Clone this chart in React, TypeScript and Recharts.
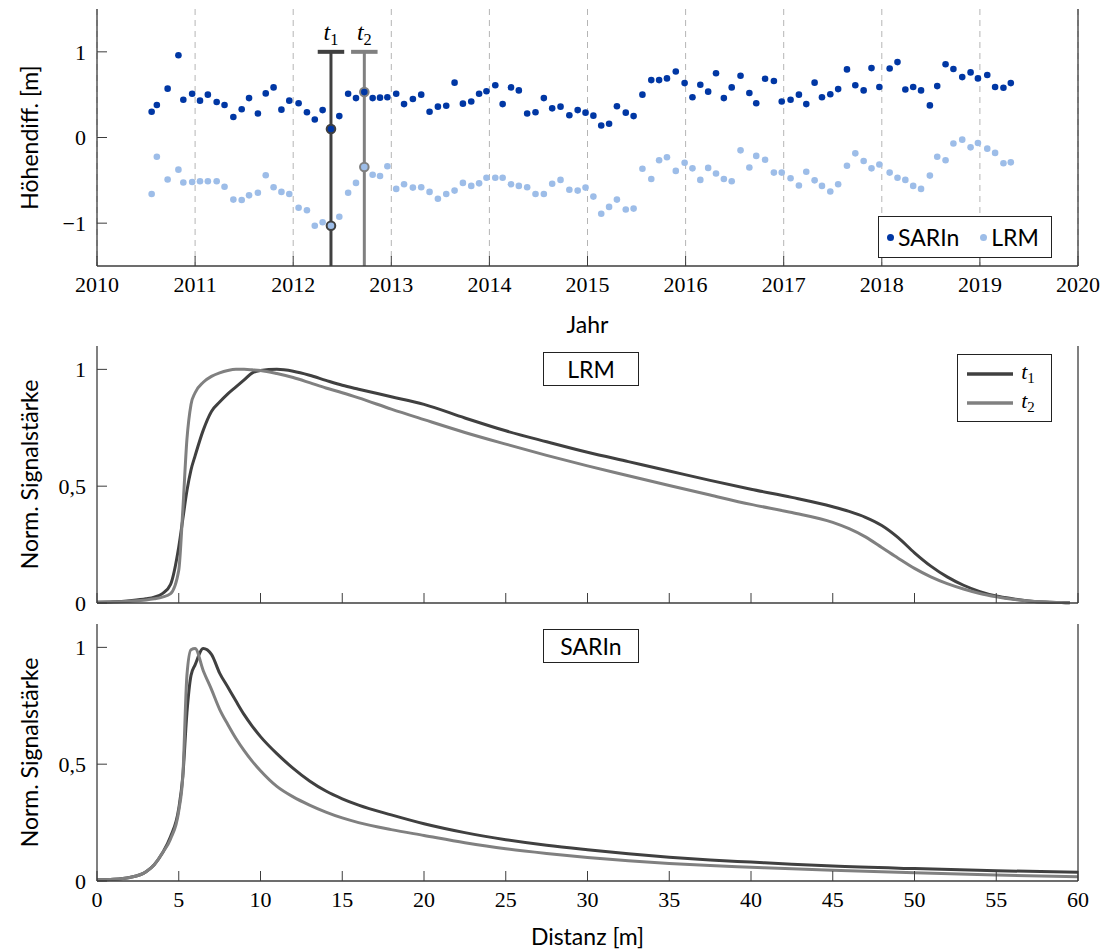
import React from 'react';
import {
  ScatterChart,
  Scatter,
  LineChart,
  Line,
  XAxis,
  YAxis,
  CartesianGrid,
  ReferenceLine,
} from 'recharts';

// --- top panel: height differences per satellite pass ---
const years = [
  2010.557, 2010.61, 2010.72, 2010.83, 2010.88, 2010.97, 2011.05, 2011.13, 2011.22, 2011.3,
  2011.39, 2011.475, 2011.55, 2011.64, 2011.72, 2011.8, 2011.88, 2011.96, 2012.055, 2012.14,
  2012.22, 2012.3, 2012.385, 2012.47, 2012.56, 2012.64, 2012.725, 2012.81, 2012.885, 2012.96,
  2013.05, 2013.13, 2013.22, 2013.305, 2013.39, 2013.475, 2013.56, 2013.645, 2013.73, 2013.815,
  2013.895, 2013.97, 2014.06, 2014.135, 2014.22, 2014.3, 2014.385, 2014.47, 2014.555, 2014.64,
  2014.725, 2014.815, 2014.9, 2014.98, 2015.06, 2015.14, 2015.22, 2015.3, 2015.39, 2015.47,
  2015.56, 2015.65, 2015.73, 2015.81, 2015.9, 2015.99, 2016.07, 2016.15, 2016.23, 2016.31,
  2016.39, 2016.47, 2016.56, 2016.65, 2016.72, 2016.81, 2016.9, 2016.98, 2017.07, 2017.155,
  2017.23, 2017.315, 2017.39, 2017.475, 2017.555, 2017.645, 2017.73, 2017.815, 2017.895, 2017.975,
  2018.08, 2018.16, 2018.24, 2018.32, 2018.4, 2018.49, 2018.565, 2018.65, 2018.73, 2018.82,
  2018.905, 2018.98, 2019.075, 2019.155, 2019.24, 2019.315,
];

const sarin = [
  0.3, 0.38, 0.57, 0.96, 0.44, 0.51, 0.43, 0.5, 0.415, 0.38,
  0.24, 0.33, 0.46, 0.28, 0.515, 0.585, 0.325, 0.43, 0.4, 0.295,
  0.21, 0.32, 0.1, 0.25, 0.51, 0.46, 0.53, 0.46, 0.465, 0.47,
  0.51, 0.39, 0.45, 0.5, 0.3, 0.36, 0.37, 0.64, 0.395, 0.42,
  0.51, 0.54, 0.61, 0.39, 0.585, 0.55, 0.28, 0.295, 0.46, 0.34,
  0.36, 0.26, 0.32, 0.29, 0.255, 0.14, 0.16, 0.365, 0.29, 0.25,
  0.5, 0.67, 0.67, 0.69, 0.77, 0.635, 0.47, 0.615, 0.535, 0.75,
  0.46, 0.585, 0.72, 0.52, 0.4, 0.685, 0.66, 0.42, 0.44, 0.5,
  0.39, 0.64, 0.47, 0.505, 0.565, 0.795, 0.61, 0.55, 0.81, 0.59,
  0.805, 0.88, 0.56, 0.59, 0.55, 0.375, 0.6, 0.855, 0.8, 0.705,
  0.76, 0.69, 0.73, 0.59, 0.58, 0.635,
];

const lrm = [
  -0.66, -0.225, -0.49, -0.375, -0.525, -0.52, -0.51, -0.51, -0.51, -0.575,
  -0.725, -0.73, -0.675, -0.645, -0.44, -0.58, -0.635, -0.66, -0.82, -0.85,
  -1.03, -0.99, -1.03, -0.925, -0.645, -0.53, -0.345, -0.435, -0.45, -0.335,
  -0.6, -0.545, -0.585, -0.58, -0.635, -0.715, -0.66, -0.62, -0.53, -0.565,
  -0.535, -0.47, -0.47, -0.47, -0.545, -0.565, -0.58, -0.66, -0.66, -0.54,
  -0.495, -0.61, -0.62, -0.585, -0.69, -0.89, -0.81, -0.725, -0.84, -0.83,
  -0.365, -0.485, -0.265, -0.23, -0.39, -0.295, -0.36, -0.495, -0.355, -0.42,
  -0.485, -0.51, -0.15, -0.35, -0.215, -0.26, -0.41, -0.41, -0.475, -0.56,
  -0.4, -0.5, -0.565, -0.63, -0.545, -0.33, -0.185, -0.275, -0.36, -0.315,
  -0.41, -0.47, -0.495, -0.565, -0.6, -0.445, -0.225, -0.265, -0.07, -0.025,
  -0.115, -0.065, -0.13, -0.18, -0.3, -0.29,
];

const yearTicks = [2010, 2011, 2012, 2013, 2014, 2015, 2016, 2017, 2018, 2019, 2020];
const heightTicks = [-1, 0, 1];
const t1Index = 22;
const t2Index = 26;

// --- waveforms (normalised signal strength over distance) ---
const lrmDistance = [
  0, 1, 2, 3, 3.5, 4, 4.5, 5, 5.25, 5.5, 5.75, 6, 6.5, 7, 7.5, 8, 8.5, 9, 9.5, 10,
  11, 12, 13, 14, 15, 16, 18, 20, 22.5, 25, 27.5, 30, 32.5, 35, 37.5, 40, 42.5, 45,
  46, 47, 48, 49, 50, 51, 52, 53, 54, 55, 56, 57, 58, 59, 59.5,
];
const lrmT1 = [
  0.003, 0.005, 0.01, 0.018, 0.025, 0.04, 0.08, 0.24, 0.36, 0.48, 0.57, 0.63, 0.74, 0.82, 0.86, 0.895, 0.925, 0.955, 0.985, 0.995,
  1.0, 0.992, 0.975, 0.953, 0.932, 0.915, 0.883, 0.85, 0.792, 0.737, 0.69, 0.645, 0.605, 0.565, 0.525, 0.487, 0.452, 0.412,
  0.392, 0.367, 0.332, 0.28, 0.215, 0.158, 0.112, 0.076, 0.049, 0.03, 0.018, 0.009, 0.004, 0.002, 0.001,
];
const lrmT2 = [
  0.003, 0.005, 0.008, 0.013, 0.018, 0.025, 0.04, 0.14, 0.4, 0.7, 0.85, 0.9, 0.945, 0.97, 0.985, 0.995, 1.0, 1.0, 0.998, 0.995,
  0.982, 0.965, 0.943, 0.92, 0.9, 0.878, 0.83, 0.785, 0.73, 0.68, 0.632, 0.587, 0.545, 0.503, 0.462, 0.422, 0.387, 0.345,
  0.318, 0.283, 0.238, 0.192, 0.148, 0.112, 0.083, 0.06, 0.041, 0.027, 0.016, 0.009, 0.004, 0.002, 0.001,
];

const sarinDistance = [
  0, 1, 2, 3, 3.5, 4, 4.5, 5, 5.25, 5.5, 5.75, 6, 6.5, 7, 7.5, 8, 8.5, 9, 9.5, 10,
  11, 12, 13, 14, 15, 16, 18, 20, 22.5, 25, 27.5, 30, 32.5, 35, 37.5, 40, 42.5, 45, 50, 55, 60,
];
const sarinT1 = [
  0.005, 0.007, 0.015, 0.04, 0.07, 0.12, 0.19, 0.31, 0.45, 0.72, 0.88, 0.925, 0.995, 0.97, 0.89, 0.83, 0.77, 0.712, 0.662, 0.618,
  0.545, 0.482, 0.428, 0.385, 0.352, 0.325, 0.283, 0.245, 0.207, 0.177, 0.153, 0.134, 0.117, 0.102, 0.09, 0.081, 0.072, 0.064, 0.053, 0.044, 0.037,
];
const sarinT2 = [
  0.005, 0.007, 0.015, 0.04, 0.07, 0.12, 0.18, 0.3, 0.45, 0.88, 0.99, 0.995, 0.9, 0.82, 0.735, 0.67, 0.61, 0.558, 0.512, 0.472,
  0.405, 0.36, 0.325, 0.295, 0.27, 0.25, 0.22, 0.195, 0.164, 0.138, 0.118, 0.101, 0.087, 0.075, 0.066, 0.059, 0.052, 0.046, 0.035, 0.026, 0.018,
];

const distanceTicks = [0, 5, 10, 15, 20, 25, 30, 35, 40, 45, 50, 55, 60];
const signalTicks = [0, 0.5, 1];

const FRAME = '#3c3c3c';
const T1 = '#404040';
const T2 = '#808080';
const SARIN_BLUE = '#0037a4';
const LRM_BLUE = '#9dbde8';
const SERIF = '"Liberation Serif", "DejaVu Serif", serif';
const SANS = 'Lato, "Open Sans", sans-serif';
const TL = 10;

const tickText = { fontFamily: SERIF, fontSize: 22, fill: '#000' };
const titleText = { fontFamily: SANS, fontSize: 23, fill: '#000' };

const fmtYear = (v: number) => String(v);
const fmtHeight = (v: number) => (v < 0 ? '\u2212' + Math.abs(v) : String(v));
const fmtSignal = (v: number) => String(v).replace('.', ',');
const fmtDist = (v: number) => String(v);

const bottomTick = (fmt?: (v: number) => string) => (p: any) => (
  <g>
    <line x1={p.x} y1={p.y} x2={p.x} y2={p.y - TL} stroke={FRAME} strokeWidth={1} />
    {fmt && (
      <text x={p.x} y={p.y + 10} dy="0.72em" textAnchor="middle" style={tickText}>
        {fmt(p.payload.value)}
      </text>
    )}
  </g>
);
const topTick = (p: any) => (
  <line x1={p.x} y1={p.y} x2={p.x} y2={p.y + TL} stroke={FRAME} strokeWidth={1} />
);
const leftTick = (fmt: (v: number) => string) => (p: any) => (
  <g>
    <line x1={p.x} y1={p.y} x2={p.x + TL} y2={p.y} stroke={FRAME} strokeWidth={1} />
    <text x={p.x - 11} y={p.y} dy="0.35em" textAnchor="end" style={tickText}>
      {fmt(p.payload.value)}
    </text>
  </g>
);
const rightTick = (p: any) => (
  <line x1={p.x} y1={p.y} x2={p.x - TL} y2={p.y} stroke={FRAME} strokeWidth={1} />
);

const TSub = ({ x, y, n, size = 24 }: { x: number; y: number; n: string; size?: number }) => (
  <text x={x} y={y} textAnchor="middle" style={{ fontFamily: SERIF, fontSize: size, fill: '#000' }}>
    <tspan fontStyle="italic">t</tspan>
    <tspan fontSize={size * 0.68} dy={size * 0.2}>{n}</tspan>
  </text>
);

const dot = (color: string) => (p: any) => <circle cx={p.cx} cy={p.cy} r={3.3} fill={color} />;
const ringDot = (ring: string) => (p: any) => (
  <circle cx={p.cx} cy={p.cy} r={4.3} fill={p.payload.c} stroke={ring} strokeWidth={2} />
);

const sarinData = years.map((year, i) => ({ year, h: sarin[i] }));
const lrmData = years.map((year, i) => ({ year, h: lrm[i] }));
const t1Points = [
  { year: years[t1Index], h: sarin[t1Index], c: SARIN_BLUE },
  { year: years[t1Index], h: lrm[t1Index], c: LRM_BLUE },
];
const t2Points = [
  { year: years[t2Index], h: sarin[t2Index], c: SARIN_BLUE },
  { year: years[t2Index], h: lrm[t2Index], c: LRM_BLUE },
];
const capHalf = 0.135;

const lrmWave = lrmDistance.map((d, i) => ({ d, t1: lrmT1[i], t2: lrmT2[i] }));
const sarinWave = sarinDistance.map((d, i) => ({ d, t1: sarinT1[i], t2: sarinT2[i] }));

const markerLines = (year: number, color: string, n: string) => [
  <ReferenceLine
    key={'v' + n}
    segment={[{ x: year, y: -1.5 }, { x: year, y: 1 }]}
    stroke={color}
    strokeWidth={3}
    ifOverflow="visible"
  />,
  <ReferenceLine
    key={'c' + n}
    segment={[{ x: year - capHalf, y: 1 }, { x: year + capHalf, y: 1 }]}
    stroke={color}
    strokeWidth={4}
    ifOverflow="visible"
    label={(p: any) => (
      <TSub x={p.viewBox.x + p.viewBox.width / 2} y={p.viewBox.y - 12} n={n} />
    )}
  />,
];

function WaveChart({
  data,
  top,
  height,
  bottomAxis,
  showXLabels,
}: {
  data: any[];
  top: number;
  height: number;
  bottomAxis: number;
  showXLabels: boolean;
}) {
  return (
    <LineChart
      width={1109}
      height={height}
      data={data}
      margin={{ top: 9, right: 0, bottom: 0, left: 0 }}
      style={{ position: 'absolute', left: 0, top }}
    >
      <XAxis
        dataKey="d"
        type="number"
        domain={[0, 60]}
        ticks={distanceTicks}
        interval={0}
        height={bottomAxis}
        tickSize={0}
        tickMargin={0}
        stroke={FRAME}
        strokeWidth={1.3}
        tick={bottomTick(showXLabels ? fmtDist : undefined)}
        label={
          showXLabels
            ? { value: 'Distanz [m]', position: 'insideBottom', offset: 6, style: titleText }
            : undefined
        }
      />
      <XAxis
        xAxisId="top"
        dataKey="d"
        orientation="top"
        type="number"
        domain={[0, 60]}
        ticks={distanceTicks}
        interval={0}
        height={0}
        tickSize={0}
        tickMargin={0}
        stroke={FRAME}
        strokeWidth={1.3}
        tick={topTick}
      />
      <YAxis
        type="number"
        domain={[0, 1.1]}
        ticks={signalTicks}
        interval={0}
        width={97}
        tickSize={0}
        tickMargin={0}
        stroke={FRAME}
        strokeWidth={1.3}
        tick={leftTick(fmtSignal)}
        label={{
          value: 'Norm. Signalstärke',
          angle: -90,
          position: 'insideLeft',
          offset: 30,
          style: { ...titleText, textAnchor: 'middle' },
        }}
      />
      <YAxis
        yAxisId="right"
        orientation="right"
        type="number"
        domain={[0, 1.1]}
        ticks={signalTicks}
        interval={0}
        width={31}
        tickSize={0}
        tickMargin={0}
        stroke={FRAME}
        strokeWidth={1.3}
        tick={rightTick}
      />
      <Line type="monotone" dataKey="t1" stroke={T1} strokeWidth={3} dot={false} isAnimationActive={false} />
      <Line type="monotone" dataKey="t2" stroke={T2} strokeWidth={3} dot={false} isAnimationActive={false} />
    </LineChart>
  );
}

const boxStyle: React.CSSProperties = {
  position: 'absolute',
  background: '#fff',
  border: '1.3px solid #222',
  boxSizing: 'border-box',
  fontFamily: SANS,
  fontSize: 23,
  color: '#000',
};

export default function App() {
  return (
    <div style={{ position: 'absolute', left: 0, top: 0, width: 1109, height: 951, background: '#fff' }}>
      <ScatterChart
        width={1109}
        height={340}
        margin={{ top: 9, right: 0, bottom: 0, left: 0 }}
        style={{ position: 'absolute', left: 0, top: 0 }}
      >
        <CartesianGrid vertical horizontal={false} strokeDasharray="6 5" stroke="#b5b5b5" />
        <XAxis
          dataKey="year"
          type="number"
          domain={[2010, 2020]}
          ticks={yearTicks}
          interval={0}
          height={74}
          tickSize={0}
          tickMargin={0}
          stroke={FRAME}
          strokeWidth={1.3}
          tick={bottomTick(fmtYear)}
          label={{ value: 'Jahr', position: 'insideBottom', offset: 7, style: titleText }}
        />
        <XAxis
          xAxisId="top"
          dataKey="year"
          orientation="top"
          type="number"
          domain={[2010, 2020]}
          ticks={yearTicks}
          interval={0}
          height={0}
          tickSize={0}
          tickMargin={0}
          stroke={FRAME}
          strokeWidth={1.3}
          tick={topTick}
        />
        <YAxis
          dataKey="h"
          type="number"
          domain={[-1.5, 1.5]}
          ticks={heightTicks}
          interval={0}
          width={97}
          tickSize={0}
          tickMargin={0}
          stroke={FRAME}
          strokeWidth={1.3}
          tick={leftTick(fmtHeight)}
          label={{
            value: 'Höhendiff. [m]',
            angle: -90,
            position: 'insideLeft',
            offset: 30,
            style: { ...titleText, textAnchor: 'middle' },
          }}
        />
        <YAxis
          yAxisId="right"
          dataKey="h"
          orientation="right"
          type="number"
          domain={[-1.5, 1.5]}
          ticks={heightTicks}
          interval={0}
          width={31}
          tickSize={0}
          tickMargin={0}
          stroke={FRAME}
          strokeWidth={1.3}
          tick={rightTick}
        />
        <Scatter data={sarinData} shape={dot(SARIN_BLUE)} isAnimationActive={false} />
        <Scatter data={lrmData} shape={dot(LRM_BLUE)} isAnimationActive={false} />
        {markerLines(years[t1Index], T1, '1')}
        {markerLines(years[t2Index], T2, '2')}
        <Scatter data={t1Points} shape={ringDot(T1)} isAnimationActive={false} />
        <Scatter data={t2Points} shape={ringDot(T2)} isAnimationActive={false} />
      </ScatterChart>

      {/* legend of the top panel */}
      <div
        style={{
          ...boxStyle,
          left: 878,
          top: 216,
          width: 174,
          height: 42,
          display: 'flex',
          alignItems: 'center',
          paddingLeft: 8,
        }}
      >
        <span style={{ width: 7, height: 7, borderRadius: 4, background: SARIN_BLUE, marginRight: 4 }} />
        <span>SARIn</span>
        <span style={{ width: 7, height: 7, borderRadius: 4, background: LRM_BLUE, marginLeft: 21, marginRight: 4 }} />
        <span>LRM</span>
      </div>

      <WaveChart data={lrmWave} top={337} height={290} bottomAxis={24} showXLabels={false} />
      <WaveChart data={sarinWave} top={615} height={336} bottomAxis={70} showXLabels />

      {/* panel titles */}
      <div style={{ ...boxStyle, left: 543, top: 352, width: 96, height: 34, textAlign: 'center', lineHeight: '32px' }}>
        LRM
      </div>
      <div style={{ ...boxStyle, left: 543, top: 629, width: 96, height: 34, textAlign: 'center', lineHeight: '32px' }}>
        SARIn
      </div>

      {/* legend of the LRM panel */}
      <div style={{ ...boxStyle, left: 957, top: 354, width: 95, height: 68 }}>
        <svg width={93} height={66}>
          <line x1={9} y1={19} x2={55} y2={19} stroke={T1} strokeWidth={3.5} />
          <line x1={9} y1={48} x2={55} y2={48} stroke={T2} strokeWidth={3.5} />
          <TSub x={70} y={24} n="1" size={22} />
          <TSub x={70} y={53} n="2" size={22} />
        </svg>
      </div>
    </div>
  );
}
